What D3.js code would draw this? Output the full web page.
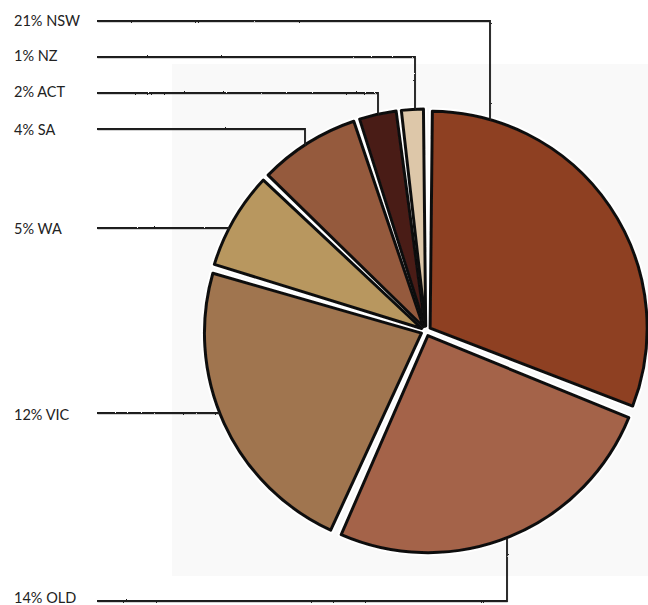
<!DOCTYPE html>
<html><head><meta charset="utf-8">
<script src="https://cdn.jsdelivr.net/npm/d3@7"></script>
<style>html,body{margin:0;padding:0;background:#fff;} svg{display:block}</style>
</head><body>
<svg id="chart" width="648" height="605"></svg>
<script>
// ---- data ----
const regions = ["NSW", "OLD", "VIC", "WA", "SA", "ACT", "NZ"];
const percents = [21, 14, 12, 5, 4, 2, 1];
// slice sizes as drawn (share of the circle)
const sliceShare = [111, 92, 82, 27, 28, 11, 7];
const labelOrder = ["NSW", "NZ", "ACT", "SA", "WA", "VIC", "OLD"];

// ---- style / layout ----
const colors = {NSW:"#8e3f22", OLD:"#a4634a", VIC:"#a0744f", WA:"#b8975f", SA:"#955a3e", ACT:"#4a1c17", NZ:"#ddc7a9"};
const L = {cx:426, cy:331, r:217, explode:5, gap:4.5};
const labelLayout = {
  NSW:{y:21, ty:26, type:"down", x:490},
  NZ:{y:57, ty:61, type:"down", x:415},
  ACT:{y:93, ty:97, type:"down", x:378},
  SA:{y:129, ty:135, type:"down", x:305},
  WA:{y:228, ty:234, type:"side"},
  VIC:{y:413, ty:420, type:"side"},
  OLD:{y:601, ty:603, type:"up", x:507}
};

const svg = d3.select("#chart");
const defs = svg.append("defs");
const rough = defs.append("filter").attr("id","rough").attr("filterUnits","userSpaceOnUse")
  .attr("x",-50).attr("y",-50).attr("width",800).attr("height",750);
rough.append("feTurbulence").attr("type","fractalNoise").attr("baseFrequency","0.9").attr("numOctaves",2).attr("seed",3).attr("result","n");
rough.append("feDisplacementMap").attr("in","SourceGraphic").attr("in2","n").attr("scale",1.8);
const soft = defs.append("filter").attr("id","soft")
  .attr("x","-10%").attr("y","-10%").attr("width","120%").attr("height","120%");
soft.append("feGaussianBlur").attr("stdDeviation",0.6);

svg.append("rect").attr("x",0).attr("y",0).attr("width",648).attr("height",605).attr("fill","#fff");
svg.append("rect").attr("x",172).attr("y",64).attr("width",476).attr("height",512).attr("fill","#f9f9f9");

const pie = d3.pie().sort(null).value(d => d.v);
const arcs = pie(regions.map((k,i) => ({k, v:sliceShare[i]})));
const arcGen = d3.arc().innerRadius(0).outerRadius(L.r).padAngle(L.gap / L.r).padRadius(L.r);

const centers = {};
arcs.forEach(a => {
  const mid = (a.startAngle + a.endAngle) / 2;
  centers[a.data.k] = {x: L.cx + Math.sin(mid) * L.explode, y: L.cy - Math.cos(mid) * L.explode};
});

const g = svg.append("g");
g.selectAll("path.halo").data(arcs).join("path")
  .attr("class","halo")
  .attr("transform", d => `translate(${centers[d.data.k].x},${centers[d.data.k].y})`)
  .attr("d", arcGen).attr("fill","none").attr("stroke","#fff").attr("stroke-width",7).attr("stroke-linejoin","round");
g.selectAll("path.slice").data(arcs).join("path")
  .attr("class","slice")
  .attr("transform", d => `translate(${centers[d.data.k].x},${centers[d.data.k].y})`)
  .attr("d", arcGen)
  .attr("fill", d => colors[d.data.k])
  .attr("stroke","#111").attr("stroke-width",3).attr("stroke-linejoin","round")
  .attr("filter","url(#soft)");

// leaders and labels
const lg = svg.append("g");
labelOrder.forEach(k => {
  const i = regions.indexOf(k);
  const lay = labelLayout[k];
  const c = centers[k];
  let p;
  if (lay.type === "down") {
    const ya = c.y - Math.sqrt(L.r*L.r - (lay.x - c.x)**2);
    p = `M97,${lay.y}H${lay.x}V${ya}`;
  } else if (lay.type === "up") {
    const ya = c.y + Math.sqrt(L.r*L.r - (lay.x - c.x)**2);
    p = `M97,${lay.y}H${lay.x}V${ya}`;
  } else {
    const xa = c.x - Math.sqrt(L.r*L.r - (lay.y - c.y)**2);
    p = `M97,${lay.y}H${xa}`;
  }
  lg.append("path").attr("d", p).attr("fill","none").attr("stroke","#1a1a1a").attr("stroke-width",1.8)
    .attr("filter","url(#rough)");
  lg.append("path").attr("d", p).attr("fill","none").attr("stroke","#333").attr("stroke-width",1)
    .attr("stroke-opacity",0.45).attr("transform","translate(0.6,1)");
  lg.append("text").attr("x",14).attr("y",lay.ty)
    .attr("font-family","Lato, 'Open Sans', sans-serif").attr("font-size",14.5).attr("fill","#222")
    .text(`${percents[i]}% ${k}`);
});
</script>
</body></html>
